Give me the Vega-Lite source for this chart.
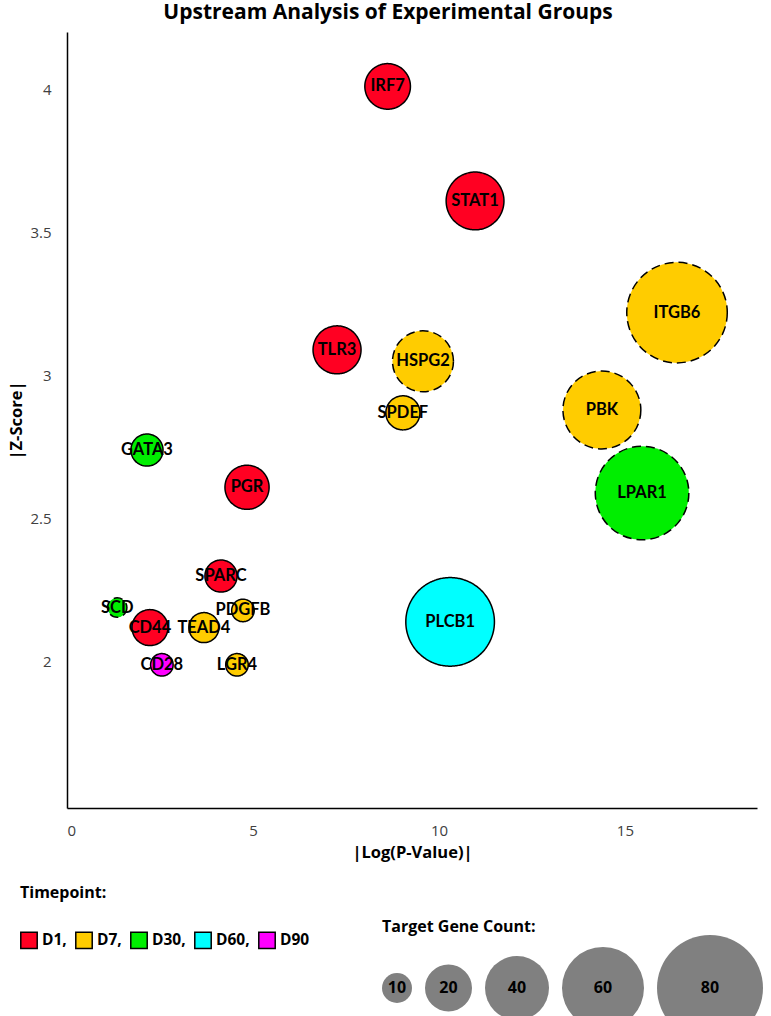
{
  "$schema": "https://vega.github.io/schema/vega-lite/v6.json",
  "width": 690,
  "height": 776,
  "autosize": {"type": "none"},
  "padding": {"left": 67, "top": 32, "right": 14, "bottom": 208},
  "background": "white",
  "title": {"text": "Upstream Analysis of Experimental Groups", "font": "Open Sans", "fontSize": 21, "fontWeight": "bold", "color": "black", "anchor": "middle", "offset": 9, "dx": -24},
  "config": {"view": {"stroke": null}, "font": "Lato"},
  "data": {"values": [
    {"gene": "IRF7", "timepoint": "D1", "logp": 8.62, "z": 4.01, "count": 19, "border": "solid"},
    {"gene": "STAT1", "timepoint": "D1", "logp": 10.97, "z": 3.61, "count": 32, "border": "solid"},
    {"gene": "ITGB6", "timepoint": "D7", "logp": 16.4, "z": 3.22, "count": 75, "border": "dashed"},
    {"gene": "TLR3", "timepoint": "D1", "logp": 7.26, "z": 3.09, "count": 21, "border": "solid"},
    {"gene": "HSPG2", "timepoint": "D7", "logp": 9.57, "z": 3.05, "count": 36, "border": "dashed"},
    {"gene": "SPDEF", "timepoint": "D7", "logp": 9.03, "z": 2.87, "count": 12, "border": "solid"},
    {"gene": "PBK", "timepoint": "D7", "logp": 14.38, "z": 2.88, "count": 55, "border": "dashed"},
    {"gene": "GATA3", "timepoint": "D30", "logp": 2.15, "z": 2.74, "count": 11, "border": "solid"},
    {"gene": "PGR", "timepoint": "D1", "logp": 4.84, "z": 2.61, "count": 18, "border": "solid"},
    {"gene": "LPAR1", "timepoint": "D30", "logp": 15.46, "z": 2.59, "count": 69, "border": "dashed"},
    {"gene": "SPARC", "timepoint": "D1", "logp": 4.14, "z": 2.30, "count": 11, "border": "solid"},
    {"gene": "SCD", "timepoint": "D30", "logp": 1.35, "z": 2.19, "count": 6, "border": "dashed"},
    {"gene": "PDGFB", "timepoint": "D7", "logp": 4.73, "z": 2.18, "count": 7, "border": "solid"},
    {"gene": "PLCB1", "timepoint": "D60", "logp": 10.3, "z": 2.14, "count": 65, "border": "solid"},
    {"gene": "CD44", "timepoint": "D1", "logp": 2.23, "z": 2.12, "count": 13, "border": "solid"},
    {"gene": "TEAD4", "timepoint": "D7", "logp": 3.68, "z": 2.12, "count": 10, "border": "solid"},
    {"gene": "CD28", "timepoint": "D90", "logp": 2.55, "z": 1.99, "count": 7, "border": "solid"},
    {"gene": "LGR4", "timepoint": "D7", "logp": 4.57, "z": 1.99, "count": 7, "border": "solid"}
  ]},
  "encoding": {
    "x": {"field": "logp", "type": "quantitative",
      "scale": {"domain": [0, 18.55], "nice": false, "zero": false},
      "axis": {"title": "|Log(P-Value)|", "values": [0, 5, 10, 15], "ticks": false, "grid": false,
        "domainColor": "black", "domainWidth": 1.5, "labelFont": "Open Sans", "labelFontSize": 15, "labelColor": "#404040",
        "labelPadding": 15, "titleFont": "Open Sans", "titleFontSize": 16.5, "titleFontWeight": "bold", "titleColor": "black", "titlePadding": 6}},
    "y": {"field": "z", "type": "quantitative",
      "scale": {"domain": [1.49, 4.2], "nice": false, "zero": false},
      "axis": {"title": "|Z-Score|", "values": [2, 2.5, 3, 3.5, 4], "format": "~g", "ticks": false, "grid": false,
        "domainColor": "black", "domainWidth": 1.5, "labelFont": "Open Sans", "labelFontSize": 15, "labelColor": "#404040",
        "labelPadding": 16, "titleFont": "Open Sans", "titleFontSize": 16.5, "titleFontWeight": "bold", "titleColor": "black", "titlePadding": 5}}
  },
  "layer": [
    {
      "mark": {"type": "point", "filled": true, "shape": "circle", "stroke": "black", "strokeWidth": 1.5, "opacity": 1},
      "encoding": {
        "fill": {"field": "timepoint", "type": "nominal",
          "scale": {"domain": ["D1", "D7", "D30", "D60", "D90"], "range": ["#ff0022", "#ffcc00", "#00ee00", "#00ffff", "#ff00ff"]},
          "legend": {"title": "Timepoint:", "orient": "none", "legendX": -47, "legendY": 853, "direction": "horizontal",
            "symbolType": "square", "symbolSize": 270, "symbolStrokeColor": "black", "symbolStrokeWidth": 1.5, "symbolOpacity": 1,
            "labelFont": "Open Sans", "labelFontSize": 15.5, "labelFontWeight": "bold", "labelColor": "black", "labelOffset": 4,
            "columnPadding": 5, "titleFont": "Open Sans", "titleFontSize": 16, "titleFontWeight": "bold", "titleColor": "black", "titlePadding": 30,
            "labelExpr": "datum.label == 'D90' ? datum.label : datum.label + ','"}},
        "size": {"field": "count", "type": "quantitative",
          "scale": {"type": "linear", "domain": [10, 20, 40, 60, 80], "range": [900, 2209, 4096, 6724, 11236], "zero": false},
          "legend": {"title": "Target Gene Count:", "orient": "none", "legendX": 315, "legendY": 887, "direction": "horizontal",
            "values": [10, 20, 40, 60, 80], "symbolType": "circle", "symbolFillColor": "#808080", "symbolStrokeWidth": 0, "symbolOpacity": 1,
            "columnPadding": 13, "labelFont": "Open Sans", "labelFontSize": 16, "labelFontWeight": "bold", "labelColor": "black",
            "labelAlign": "center", "labelOffset": {"expr": "-datum.size * 0.5"},
            "titleFont": "Open Sans", "titleFontSize": 16, "titleFontWeight": "bold", "titleColor": "black", "titlePadding": 0,
            "encode": {
              "symbols": {"update": {"y": {"signal": "80 - datum.size * 0.5"}, "fill": {"value": "#808080"}, "stroke": {"value": "transparent"}, "strokeWidth": {"value": 0}}},
              "labels": {"update": {"y": {"signal": "80 - datum.size * 0.5"}, "baseline": {"value": "middle"}}}
            }}},
        "strokeDash": {"field": "border", "type": "nominal",
          "scale": {"domain": ["solid", "dashed"], "range": [[1, 0], [9, 5]]}, "legend": null}
      }
    },
    {
      "mark": {"type": "text", "font": "Lato", "fontSize": 16.5, "fontWeight": "bold", "color": "black"},
      "encoding": {"text": {"field": "gene", "type": "nominal"}}
    }
  ]
}
